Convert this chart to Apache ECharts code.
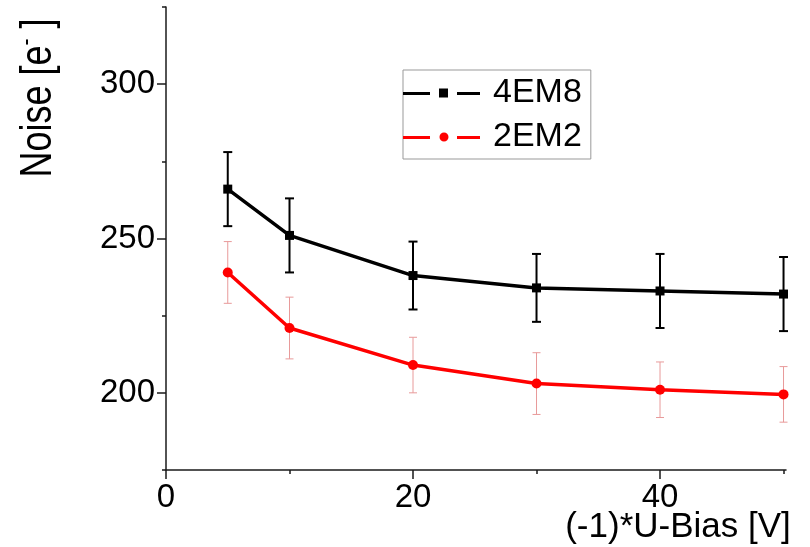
<!DOCTYPE html>
<html>
<head>
<meta charset="utf-8">
<script src="https://cdn.jsdelivr.net/npm/echarts@6/dist/echarts.min.js"></script>
<style>
  html, body { margin: 0; padding: 0; background: #fff; }
  #chart { width: 810px; height: 547px; }
</style>
</head>
<body>
<div id="chart"></div>
<script>
// Bias voltage (magnitude) in volts
const voltages = [5, 10, 20, 30, 40, 50];
// Module 4EM8: mean noise and error
const noise4EM8 = [266, 251, 238, 234, 233, 232];
const err4EM8 = [12, 12, 11, 11, 12, 12];
// Module 2EM2: mean noise and error
const noise2EM2 = [239, 221, 209, 203, 201, 199.5];
const err2EM2 = [10, 10, 9, 10, 9, 9];
// Axis tick positions
const xMajorTicks = [0, 20, 40];
const xMinorTicks = [10, 30, 50];
const yMajorTicks = [200, 250, 300];
const yMinorTicks = [175, 225, 275, 325];

const FONT = 'Liberation Sans, Arial, sans-serif';
const AXIS_COLOR = '#1a1a1a';

function pairs(ys) { return voltages.map((v, i) => [v, ys[i]]); }
function bars(ys, errs) { return voltages.map((v, i) => [v, ys[i] - errs[i], ys[i] + errs[i]]); }

function errorBarRenderer(color, width, cap) {
  return function (params, api) {
    const x = api.value(0);
    const lo = api.coord([x, api.value(1)]);
    const hi = api.coord([x, api.value(2)]);
    const style = { stroke: color, lineWidth: width };
    return {
      type: 'group',
      children: [
        { type: 'line', shape: { x1: lo[0], y1: lo[1], x2: hi[0], y2: hi[1] }, style },
        { type: 'line', shape: { x1: hi[0] - cap, y1: hi[1], x2: hi[0] + cap, y2: hi[1] }, style },
        { type: 'line', shape: { x1: lo[0] - cap, y1: lo[1], x2: lo[0] + cap, y2: lo[1] }, style }
      ]
    };
  };
}

// Legend glyphs: dash, marker, dash
const iconSquare = 'path://M0,3.5h27v3h-27z M36,0h9v9h-9z M54,3.5h23v3h-23z';
const iconCircle = 'path://M0,3.5h27v3h-27z M36.5,4.5a4.5,4.5 0 1,0 9,0a4.5,4.5 0 1,0 -9,0z M54,3.5h23v3h-23z';

const chart = echarts.init(document.getElementById('chart'), null, { renderer: 'canvas' });

const axisLine = { show: true, lineStyle: { color: AXIS_COLOR, width: 1.5 } };

chart.setOption({
  backgroundColor: '#ffffff',
  animation: false,
  grid: { left: 166, right: 24, top: 7, bottom: 77, containLabel: false },
  xAxis: [
    {
      type: 'value', min: 0, max: 50.2, position: 'bottom',
      axisLine,
      axisTick: { show: true, customValues: xMajorTicks, length: 9, lineStyle: { color: AXIS_COLOR, width: 1.5 } },
      axisLabel: { customValues: xMajorTicks, fontSize: 33, fontFamily: FONT, color: '#000', margin: 11 },
      splitLine: { show: false }
    },
    {
      type: 'value', min: 0, max: 50.2, position: 'bottom',
      axisLine: { show: false },
      axisTick: { show: true, customValues: xMinorTicks, length: 4, lineStyle: { color: AXIS_COLOR, width: 1.5 } },
      axisLabel: { show: false },
      splitLine: { show: false }
    }
  ],
  yAxis: [
    {
      type: 'value', min: 175, max: 325, position: 'left',
      axisLine,
      axisTick: { show: true, customValues: yMajorTicks, length: 9, lineStyle: { color: AXIS_COLOR, width: 1.5 } },
      axisLabel: { customValues: yMajorTicks, fontSize: 33, fontFamily: FONT, color: '#000', margin: 11 },
      splitLine: { show: false }
    },
    {
      type: 'value', min: 175, max: 325, position: 'left',
      axisLine: { show: false },
      axisTick: { show: true, customValues: yMinorTicks, length: 4, lineStyle: { color: AXIS_COLOR, width: 1.5 } },
      axisLabel: { show: false },
      splitLine: { show: false }
    }
  ],
  legend: {
    orient: 'vertical',
    left: 403, top: 70,
    padding: [6, 9, 5, 0],
    itemGap: 10,
    itemWidth: 77, itemHeight: 9,
    borderColor: '#999', borderWidth: 1,
    itemStyle: { borderWidth: 0 },
    textStyle: { fontSize: 34, fontFamily: FONT, color: '#000', padding: [0, 0, 0, 8] },
    data: [
      { name: '4EM8', icon: iconSquare },
      { name: '2EM2', icon: iconCircle }
    ]
  },
  graphic: [
    {
      type: 'text', x: 39, y: 98, rotation: Math.PI / 2, scaleY: 1.22,
      style: {
        text: '{a|Noise [e}{s|-}{a| ]}',
        align: 'center', verticalAlign: 'middle',
        fill: '#000',
        rich: {
          a: { fontSize: 36, fontFamily: FONT, fill: '#000', lineHeight: 40 },
          s: { fontSize: 21, fontFamily: FONT, fill: '#000', verticalAlign: 'top', lineHeight: 40 }
        }
      }
    },
    {
      type: 'text', x: 678, y: 527,
      style: {
        text: '(-1)*U-Bias [V]',
        fontSize: 35, fontFamily: FONT, fill: '#000',
        align: 'center', verticalAlign: 'middle'
      }
    }
  ],
  series: [
    {
      type: 'custom', name: 'err4EM8', xAxisIndex: 0, yAxisIndex: 0, z: 1,
      renderItem: errorBarRenderer('#000000', 2, 4.5),
      encode: { x: 0, y: [1, 2] },
      data: bars(noise4EM8, err4EM8)
    },
    {
      type: 'custom', name: 'err2EM2', xAxisIndex: 0, yAxisIndex: 0, z: 1,
      renderItem: errorBarRenderer('#e89a9a', 1, 4),
      encode: { x: 0, y: [1, 2] },
      data: bars(noise2EM2, err2EM2)
    },
    {
      type: 'line', name: '4EM8', xAxisIndex: 0, yAxisIndex: 0, z: 3,
      data: pairs(noise4EM8),
      symbol: 'rect', symbolSize: 9, showAllSymbol: true,
      lineStyle: { color: '#000', width: 3.5 },
      itemStyle: { color: '#000' }
    },
    {
      type: 'line', name: '2EM2', xAxisIndex: 0, yAxisIndex: 0, z: 3,
      data: pairs(noise2EM2),
      symbol: 'circle', symbolSize: 10, showAllSymbol: true,
      lineStyle: { color: '#ff0000', width: 3.5 },
      itemStyle: { color: '#ff0000' }
    }
  ]
});
</script>
</body>
</html>
